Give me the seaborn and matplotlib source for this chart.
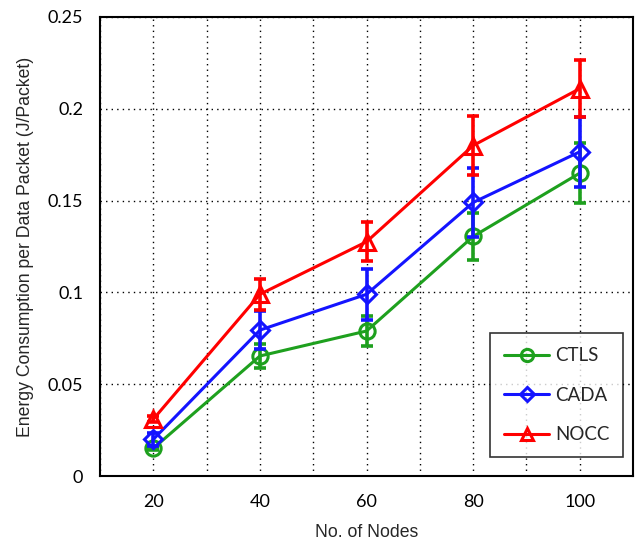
import matplotlib
matplotlib.use("Agg")
import matplotlib.pyplot as plt
import seaborn as sns
import pandas as pd

nodes = [20, 40, 60, 80, 100]
ctls = [0.0151, 0.0654, 0.0790, 0.1305, 0.1650]
ctls_err = [0.0010, 0.0066, 0.0080, 0.0130, 0.0165]
cada = [0.0200, 0.0795, 0.0990, 0.1490, 0.1766]
cada_err = [0.0035, 0.0105, 0.0140, 0.0190, 0.0190]
nocc = [0.0310, 0.0990, 0.1276, 0.1800, 0.2110]
nocc_err = [0.0015, 0.0085, 0.0105, 0.0160, 0.0155]

series_names = ["CTLS", "CADA", "NOCC"]
values = [ctls, cada, nocc]
errors = [ctls_err, cada_err, nocc_err]
colors = ["#1ea01e", "#1414ff", "#ff0000"]
markers = ["o", "D", "^"]
msizes = [11, 9.5, 11]

sns.set_style("white")
fig = plt.figure(figsize=(6.35, 5.41), dpi=100)
ax = fig.add_axes([0.1575, 0.120, 0.8395, 0.8486])

for name, v, e, c, m, ms in zip(series_names, values, errors, colors, markers, msizes):
    df = pd.DataFrame({"Nodes": nodes, "Energy": v})
    sns.lineplot(data=df, x="Nodes", y="Energy", ax=ax, color=c, marker=m,
                 markersize=ms, markerfacecolor="none", markeredgecolor=c,
                 markeredgewidth=2.2, linewidth=2.2, label=name, zorder=3)
    ax.errorbar(nodes, v, yerr=e, fmt="none", ecolor=c, elinewidth=2.6,
                capsize=4, capthick=2.6, zorder=3)

ax.set_xlim(10, 110)
ax.set_ylim(0, 0.25)
ax.set_xticks([20, 40, 60, 80, 100])
ax.set_xticks(range(10, 111, 10), minor=True)
ax.set_yticks([0, 0.05, 0.1, 0.15, 0.2, 0.25])
ax.set_yticklabels(["0", "0.05", "0.1", "0.15", "0.2", "0.25"])
ax.grid(True, which="both", axis="x", linestyle=(0, (1, 3)), color="black", linewidth=1)
ax.grid(True, which="major", axis="y", linestyle=(0, (1, 3)), color="black", linewidth=1)
ax.tick_params(axis="both", which="major", direction="out", length=5, width=1.5,
               labelsize=13, colors="black")
ax.tick_params(axis="y", which="major", pad=7)
ax.tick_params(axis="x", which="major", pad=8)
ax.tick_params(axis="x", which="minor", length=0)
for lab in ax.get_xticklabels() + ax.get_yticklabels():
    lab.set_family(["Lato", "DejaVu Sans"])
for s in ax.spines.values():
    s.set_color("black")
    s.set_linewidth(1.5)

ax.set_xlabel("No. of Nodes", fontsize=12.7, family="Liberation Sans", labelpad=10)
ax.set_ylabel("Energy Consumption per Data Packet (J/Packet)", fontsize=12.7,
              family="Liberation Sans", labelpad=10)

leg = ax.legend(loc="lower right", bbox_to_anchor=(0.982, 0.041), borderaxespad=0,
                frameon=True, fancybox=False, edgecolor="black",
                handlelength=2.4, handletextpad=0.3, labelspacing=1.2, borderpad=0.75,
                prop={"family": "Lato", "size": 13.5}, markerscale=0.8)
leg.get_frame().set_linewidth(1.2)

fig.savefig("out.png", dpi=100)
